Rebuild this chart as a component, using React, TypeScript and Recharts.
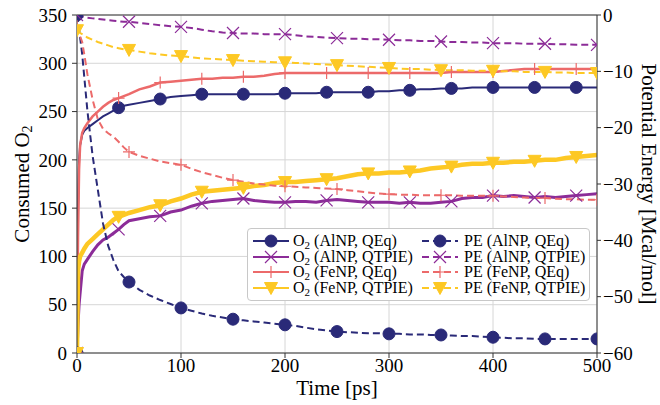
import React from 'react';
import {CartesianGrid, Legend, Line, LineChart, ReferenceLine, XAxis, YAxis} from 'recharts';

// time axis [ps]
const times = [
    0, 1, 2, 3, 5, 7, 10, 15, 20, 25, 30, 35, 40, 45, 50,
    60, 70, 80, 90, 100, 110, 120, 130, 140, 150, 160, 170, 180, 190, 200,
    210, 220, 230, 240, 250, 260, 270, 280, 290, 300, 310, 320, 330, 340, 350,
    360, 370, 380, 390, 400, 410, 420, 430, 440, 450, 460, 470, 480, 490, 500,
];

// consumed O2 (left axis)
const o2AlQEq = [
    0, 150, 200, 215, 226, 230, 233, 237, 241, 245, 248, 251, 254, 256, 257,
    259, 261, 263, 265, 266, 267, 268, 268, 268, 268, 268, 268, 268, 268, 269,
    269, 269, 269, 270, 270, 270, 270, 270, 271, 271, 272, 272, 273, 273, 274,
    274, 274, 275, 275, 275, 275, 275, 275, 275, 275, 275, 275, 275, 275, 275,
];
const o2AlQTPIE = [
    0, 30, 50, 62, 85, 92, 97, 105, 112, 117, 120, 124, 128, 133, 137,
    139, 141, 142, 146, 148, 152, 155, 157, 158, 159, 160, 158, 157, 156, 156,
    157, 157, 156, 158, 159, 158, 157, 156, 156, 156, 155, 156, 155, 155, 156,
    157, 160, 161, 161, 163, 162, 163, 162, 161, 162, 161, 162, 163, 164, 165,
];
const o2FeQEq = [
    0, 120, 190, 215, 228, 233, 238, 245, 250, 255, 259, 262, 264, 266, 268,
    273, 276, 280, 281, 282, 283, 284, 284, 285, 285, 286, 286, 287, 289, 290,
    290, 290, 290, 290, 290, 290, 290, 290, 290, 290, 290, 290, 290, 290, 290,
    291, 291, 291, 291, 291, 292, 293, 294, 294, 294, 294, 294, 294, 294, 294,
];
const o2FeQTPIE = [
    0, 85, 95, 100, 104, 108, 113, 118, 123, 128, 133, 138, 141, 143, 145,
    148, 151, 153, 157, 160, 164, 167, 168, 169, 170, 171, 173, 174, 176, 177,
    177, 178, 179, 180, 181, 183, 185, 186, 186, 187, 187, 188, 189, 191, 192,
    193, 195, 196, 196, 197, 197, 198, 198, 199, 200, 200, 202, 203, 204, 205,
];

// potential energy [Mcal/mol] (right axis)
const peAlQEq = [
    0, -1, -2.5, -4, -7, -11, -17, -25, -31, -37, -41, -43.5, -45.5, -46.5, -47.4,
    -48.8, -49.8, -50.6, -51.3, -52, -52.5, -53, -53.4, -53.7, -54, -54.2, -54.4, -54.6, -54.8, -55,
    -55.2, -55.5, -55.8, -56, -56.2, -56.3, -56.4, -56.5, -56.5, -56.6, -56.6, -56.7, -56.7, -56.8, -56.8,
    -56.9, -57, -57, -57.1, -57.2, -57.3, -57.4, -57.4, -57.5, -57.5, -57.5, -57.5, -57.5, -57.5, -57.5,
];
const peAlQTPIE = [
    0, -0.1, -0.2, -0.2, -0.3, -0.4, -0.5, -0.6, -0.7, -0.8, -0.9, -1.0, -1.1, -1.2, -1.2,
    -1.4, -1.6, -1.8, -2.0, -2.1, -2.3, -2.6, -2.9, -3.1, -3.2, -3.3, -3.3, -3.4, -3.4, -3.4,
    -3.6, -3.8, -3.9, -4.0, -4.1, -4.2, -4.2, -4.3, -4.3, -4.4, -4.5, -4.5, -4.6, -4.6, -4.7,
    -4.8, -4.8, -4.9, -4.9, -5.0, -5.0, -5.0, -5.1, -5.1, -5.1, -5.2, -5.2, -5.3, -5.3, -5.3,
];
const peFeQEq = [
    -2, -2.5, -3.2, -3.8, -4.8, -7, -10.5, -15, -18.5, -20.2, -21, -21.6, -22.5, -23.5, -24.3,
    -25, -25.5, -26, -26.3, -26.6, -27.3, -27.9, -28.4, -28.9, -29.3, -29.6, -29.9, -30.1, -30.3, -30.4,
    -30.5, -30.6, -30.7, -30.8, -30.9, -31.1, -31.3, -31.5, -31.7, -31.8, -31.9, -31.9, -32, -32, -32,
    -32, -32.1, -32.1, -32.1, -32.1, -32.2, -32.3, -32.4, -32.5, -32.5, -32.6, -32.7, -32.7, -32.8, -32.8,
];
const peFeQTPIE = [
    -2.7, -2.8, -3, -3.2, -3.4, -3.6, -4, -4.4, -4.8, -5.1, -5.4, -5.7, -5.9, -6.1, -6.2,
    -6.5, -6.8, -7.0, -7.2, -7.3, -7.5, -7.7, -7.8, -7.9, -8.0, -8.1, -8.2, -8.3, -8.4, -8.4,
    -8.5, -8.6, -8.7, -8.8, -8.9, -9.0, -9.1, -9.2, -9.3, -9.4, -9.5, -9.6, -9.6, -9.7, -9.8,
    -9.8, -9.8, -9.9, -9.9, -9.9, -10, -10, -10.1, -10.1, -10.1, -10.2, -10.2, -10.3, -10.3, -10.3,
];

const o2MarkTimes = [0, 40, 80, 120, 160, 200, 240, 280, 320, 360, 400, 440, 480];
const peMarkTimes = [0, 50, 100, 150, 200, 250, 300, 350, 400, 450, 500];

const xTicks = [0, 100, 200, 300, 400, 500];
const leftTicks = [0, 50, 100, 150, 200, 250, 300, 350];
const rightTicks = [-60, -50, -40, -30, -20, -10, 0];

const NAVY = '#2a2a78';
const PURPLE = '#8c2c98';
const SALMON = '#ec6a6a';
const GOLD = '#fdc824';
const FONT = '"Liberation Serif"';

const o2Series = [
    {key: 'o2AlQEq', label: '(AlNP, QEq)', values: o2AlQEq, color: NAVY, shape: 'circle', width: 2},
    {key: 'o2AlQTPIE', label: '(AlNP, QTPIE)', values: o2AlQTPIE, color: PURPLE, shape: 'x', width: 3},
    {key: 'o2FeQEq', label: '(FeNP, QEq)', values: o2FeQEq, color: SALMON, shape: 'plus', width: 2.5},
    {key: 'o2FeQTPIE', label: '(FeNP, QTPIE)', values: o2FeQTPIE, color: GOLD, shape: 'tri', width: 4.5},
];
const peSeries = [
    {key: 'peAlQEq', label: '(AlNP, QEq)', values: peAlQEq, color: NAVY, shape: 'circle', width: 2},
    {key: 'peAlQTPIE', label: '(AlNP, QTPIE)', values: peAlQTPIE, color: PURPLE, shape: 'x', width: 2},
    {key: 'peFeQEq', label: '(FeNP, QEq)', values: peFeQEq, color: SALMON, shape: 'plus', width: 2},
    {key: 'peFeQTPIE', label: '(FeNP, QTPIE)', values: peFeQTPIE, color: GOLD, shape: 'tri', width: 2},
];

const data = times.map((t, i) => {
    const row: any = {t};
    [...o2Series, ...peSeries].forEach((s) => {
        row[s.key] = s.values[i];
    });
    return row;
});

const Marker = ({shape, color, x, y}: any) => {
    const s = 6;
    if (shape === 'circle') {
        return <circle cx={x} cy={y} r={6} fill={color} stroke={color} strokeWidth={1} />;
    }
    if (shape === 'x') {
        return (
            <path
                d={`M${x - s},${y - s}L${x + s},${y + s}M${x - s},${y + s}L${x + s},${y - s}`}
                stroke={color}
                strokeWidth={1.2}
                fill='none'
            />
        );
    }
    if (shape === 'plus') {
        return (
            <path
                d={`M${x - s},${y}L${x + s},${y}M${x},${y - s}L${x},${y + s}`}
                stroke={color}
                strokeWidth={1.2}
                fill='none'
            />
        );
    }
    return (
        <path
            d={`M${x - 6.5},${y - 5.5}L${x + 6.5},${y - 5.5}L${x},${y + 6.5}Z`}
            fill={color}
            stroke={color}
            strokeWidth={1}
        />
    );
};

const makeDot = (shape: string, color: string, marks: number[]) => (props: any) => {
    const {cx, cy, payload, index} = props;
    if (!marks.includes(payload.t) || cx == null || cy == null) {
        return <g key={`d${index}`} />;
    }
    return (
        <g key={`d${index}`}>
            <Marker shape={shape} color={color} x={cx} y={cy} />
        </g>
    );
};

const minus = (v: number) => String(v).replace('-', '\u2212');

const LegendItem = ({s, dashed, first}: any) => (
    <div style={{display: 'flex', alignItems: 'center', height: 15.7}}>
        <svg width={36} height={16} style={{marginRight: first ? 4 : 6, overflow: 'visible'}}>
            <line
                x1={0}
                y1={8}
                x2={36}
                y2={8}
                stroke={s.color}
                strokeWidth={2}
                strokeDasharray={dashed ? '7 4' : undefined}
            />
            <Marker shape={s.shape} color={s.color} x={18} y={8} />
        </svg>
        <span style={{whiteSpace: 'nowrap', fontFamily: FONT}}>
            {dashed ? 'PE' : (
                <>
                    O<sub style={{fontSize: 11, verticalAlign: -3, lineHeight: 0}}>2</sub>
                </>
            )}{' '}
            {s.label}
        </span>
    </div>
);

const LegendBox = () => (
    <div
        style={{
            background: '#fff',
            border: '1px solid #c8c8c8',
            borderRadius: 4,
            padding: '4px 6px 4px 5px',
            display: 'grid',
            gridTemplateColumns: '169px auto',
            fontFamily: FONT,
            fontSize: 16,
            lineHeight: '15.7px',
            color: '#000',
            boxSizing: 'border-box',
        }}
    >
        {o2Series.map((s, i) => (
            <React.Fragment key={s.key}>
                <LegendItem s={s} dashed={false} first />
                <LegendItem s={peSeries[i]} dashed />
            </React.Fragment>
        ))}
    </div>
);

// axis titles, placed in the margins around the plot box (77..597 x 15..353)
const LeftLabel = () => (
    <text
        x={22}
        y={184}
        transform='rotate(-90 22 184)'
        textAnchor='middle'
        dominantBaseline='central'
        style={{fontFamily: FONT, fontSize: 21}}
        fill='#000'
    >
        Consumed O<tspan style={{fontSize: 14}} dy={5}>2</tspan>
    </text>
);

const RightLabel = () => (
    <text
        x={649}
        y={184}
        transform='rotate(90 649 184)'
        textAnchor='middle'
        dominantBaseline='central'
        style={{fontFamily: FONT, fontSize: 21}}
        fill='#000'
    >
        Potential Energy [Mcal/mol]
    </text>
);

const BottomLabel = () => (
    <text x={337} y={395} textAnchor='middle' style={{fontFamily: FONT, fontSize: 21}} fill='#000'>
        Time [ps]
    </text>
);

const tickStyle = {fill: '#000', fontSize: 19, fontFamily: FONT, style: {fontFamily: FONT}};
const AXIS = '#333';

export default function App() {
    return (
        <div style={{position: 'absolute', left: 0, top: 0, background: '#fff', fontFamily: FONT}}>
            <LineChart
                width={660}
                height={405}
                data={data}
                margin={{top: 15, right: 0, left: 0, bottom: 0}}
                style={{fontFamily: FONT}}
            >
                <CartesianGrid yAxisId='left' stroke='#d6d6d6' strokeWidth={1} />
                <XAxis
                    dataKey='t'
                    type='number'
                    domain={[0, 500]}
                    ticks={xTicks}
                    allowDataOverflow
                    height={52}
                    stroke={AXIS}
                    tick={tickStyle}
                    tickSize={5}
                    tickMargin={1}
                    tickLine={{stroke: AXIS}}
                    label={<BottomLabel />}
                />
                <YAxis
                    yAxisId='left'
                    type='number'
                    domain={[0, 350]}
                    ticks={leftTicks}
                    allowDataOverflow
                    width={77}
                    stroke={AXIS}
                    tick={tickStyle}
                    tickSize={5}
                    tickMargin={5}
                    tickLine={{stroke: AXIS}}
                    label={<LeftLabel />}
                />
                <YAxis
                    yAxisId='right'
                    orientation='right'
                    type='number'
                    domain={[-60, 0]}
                    ticks={rightTicks}
                    allowDataOverflow
                    width={63}
                    stroke={AXIS}
                    tick={tickStyle}
                    tickSize={4}
                    tickMargin={2}
                    tickLine={{stroke: AXIS}}
                    tickFormatter={minus}
                    label={<RightLabel />}
                />
                <ReferenceLine yAxisId='left' y={350} stroke={AXIS} strokeWidth={1} />
                {o2Series.map((s) => (
                    <Line
                        key={s.key}
                        yAxisId='left'
                        dataKey={s.key}
                        type='linear'
                        stroke={s.color}
                        strokeWidth={s.width}
                        dot={makeDot(s.shape, s.color, o2MarkTimes)}
                        activeDot={false}
                        isAnimationActive={false}
                    />
                ))}
                {peSeries.map((s) => (
                    <Line
                        key={s.key}
                        yAxisId='right'
                        dataKey={s.key}
                        type='linear'
                        stroke={s.color}
                        strokeWidth={s.width}
                        strokeDasharray='7 4'
                        dot={makeDot(s.shape, s.color, peMarkTimes)}
                        activeDot={false}
                        isAnimationActive={false}
                    />
                ))}
                <Legend
                    verticalAlign='middle'
                    layout='horizontal'
                    content={<LegendBox />}
                    wrapperStyle={{left: 247, top: 228, width: 343}}
                />
            </LineChart>
        </div>
    );
}
